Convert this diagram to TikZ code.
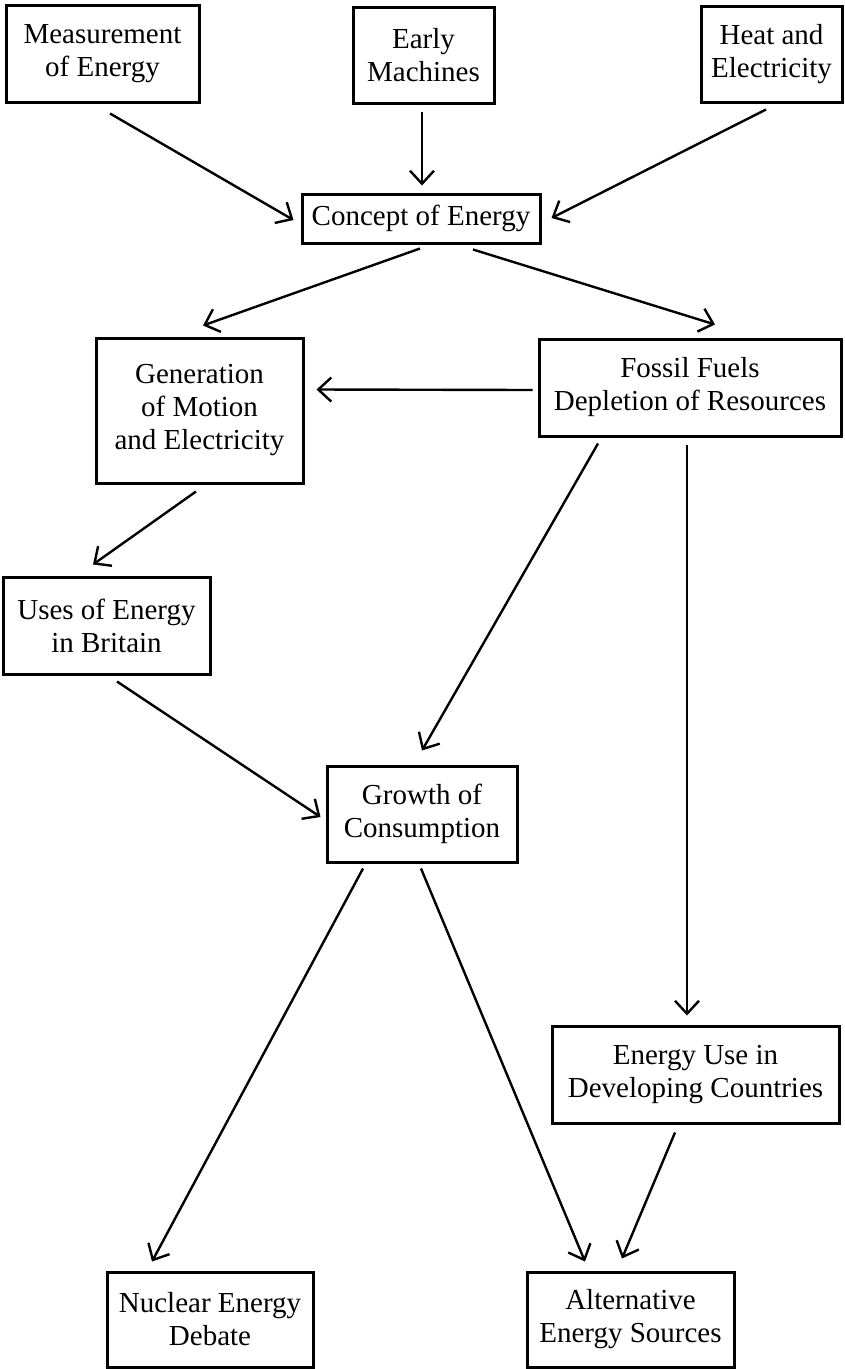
\documentclass[tikz,border=0pt]{standalone}
\usepackage{fontspec}
\setmainfont{Liberation Serif}
\usetikzlibrary{arrows.meta}
\begin{document}
\begin{tikzpicture}[x=1pt,y=-1pt,
  box/.style={draw, line width=3pt, align=center, inner sep=0pt,
    font=\fontsize{29}{33}\selectfont},
  arr/.style={line width=2.4pt, -{Straight Barb[length=13pt,width=24pt,line width=2.4pt]}}]
\useasboundingbox (0,0) rectangle (845,1369);
\node[box, minimum width=193pt, minimum height=97pt] (meas) at (102.5,53.5) {Measurement\\of Energy};
\node[box, minimum width=141pt, minimum height=96pt] (early) at (423.5,55) {Early\\Machines};
\node[box, minimum width=141pt, minimum height=96pt] (heat) at (771.5,54) {Heat and\\Electricity};
\node[box, minimum width=238pt, minimum height=49pt] (concept) at (421,218.5) {Concept of Energy};
\node[box, minimum width=207pt, minimum height=145pt] (gen) at (199.5,410.5) {Generation\\of Motion\\and Electricity};
\node[box, minimum width=302pt, minimum height=97pt] (fossil) at (690,387.5) {Fossil Fuels\\Depletion of Resources};
\node[box, minimum width=207pt, minimum height=97pt] (uses) at (106.5,625.5) {Uses of Energy\\in Britain};
\node[box, minimum width=190pt, minimum height=96pt] (growth) at (422,814) {Growth of\\Consumption};
\node[box, minimum width=287pt, minimum height=97pt] (dev) at (695.5,1074.5) {Energy Use in\\Developing Countries};
\node[box, minimum width=206pt, minimum height=95pt] (nuclear) at (210,1319.5) {Nuclear Energy\\Debate};
\node[box, minimum width=207pt, minimum height=95pt] (alt) at (630.5,1319.5) {Alternative\\Energy Sources};

\draw[arr] ([shift={(7.5,10)}]meas.south) -- ([shift={(-7,1.5)}]concept.west);
\draw[arr] ([shift={(-1.5,7)}]early.south) -- ([shift={(-1.5,-7)}]concept.north -| early.south);
\draw[arr] ([shift={(-5.5,6)}]heat.south) -- ([shift={(10,-0.5)}]concept.east);
\draw[arr] ([shift={(-1,4)}]concept.south) -- ([shift={(3.5,-11)}]gen.north);
\draw[arr] ([shift={(52,5)}]concept.south) -- ([shift={(25,-13)}]fossil.north);
\draw[arr] ([shift={(-5,2.5)}]fossil.west) -- ([shift={(12,-21)}]gen.east);
\draw[arr] ([shift={(-3.5,7)}]gen.south) -- ([shift={(-13.5,-11)}]uses.north);
\draw[arr] ([shift={(10.5,6)}]uses.south) -- ([shift={(-5,3)}]growth.west);
\draw[arr] ([shift={(-92,6)}]fossil.south) -- ([shift={(0,-14)}]growth.north);
\draw[arr] ([shift={(-3,7)}]fossil.south) -- ([shift={(-8.5,-9)}]dev.north);
\draw[arr] ([shift={(-59,5)}]growth.south) -- ([shift={(-58,-9)}]nuclear.north);
\draw[arr] ([shift={(-1,5)}]growth.south) -- ([shift={(-45.5,-9)}]alt.north);
\draw[arr] ([shift={(-20.5,8)}]dev.south) -- ([shift={(-8.5,-12)}]alt.north);
\end{tikzpicture}
\end{document}
